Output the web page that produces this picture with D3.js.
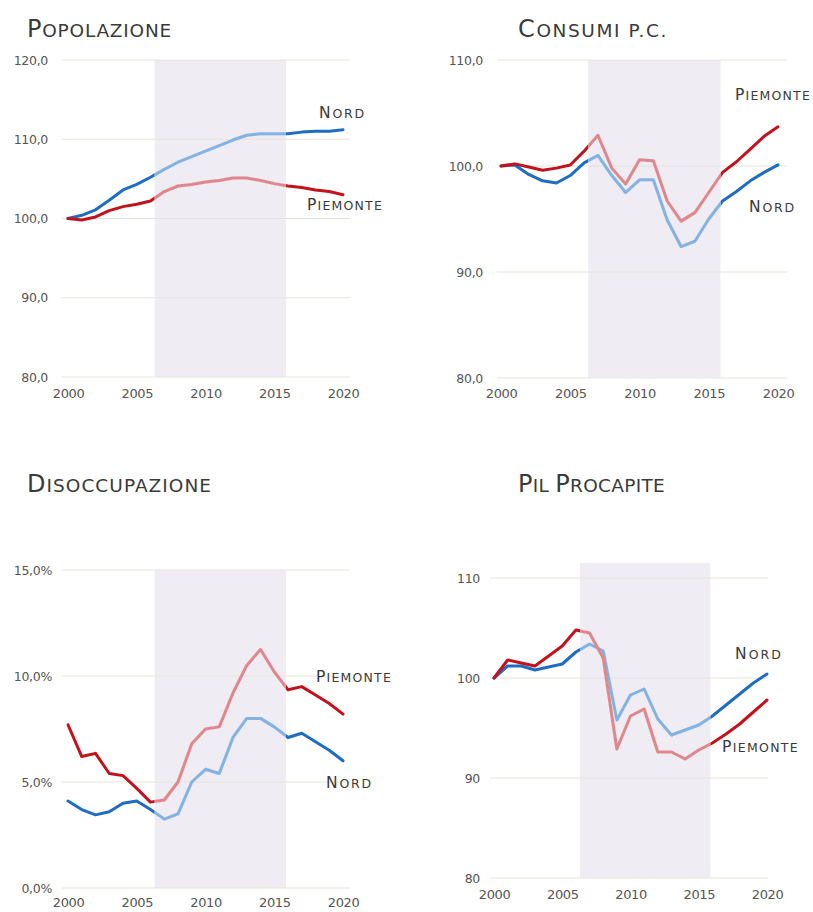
<!DOCTYPE html>
<html><head><meta charset="utf-8">
<script src="https://cdn.jsdelivr.net/npm/d3@7"></script>
<style>
html,body{margin:0;padding:0;background:#fff;}
svg{display:block;}
</style></head>
<body>
<svg id="chart" width="813" height="912"></svg>
<script>
// ---- data ----
const years = d3.range(2000, 2021);

const popNord     = [100,100.4,101.1,102.3,103.6,104.3,105.2,106.2,107.1,107.8,108.5,109.2,109.9,110.5,110.7,110.7,110.7,110.9,111.0,111.0,111.2];
const popPiemonte = [100,99.8,100.2,101.0,101.5,101.8,102.2,103.4,104.1,104.3,104.6,104.8,105.1,105.1,104.8,104.4,104.1,103.9,103.6,103.4,103.0];

const consNord     = [100,100.1,99.2,98.6,98.4,99.1,100.3,101.0,99.1,97.5,98.7,98.7,94.9,92.4,92.9,95.0,96.7,97.6,98.6,99.4,100.1];
const consPiemonte = [100,100.2,99.9,99.6,99.8,100.1,101.4,102.9,99.8,98.3,100.6,100.5,96.7,94.8,95.6,97.5,99.4,100.4,101.6,102.8,103.7];

const disNord     = [4.1,3.7,3.45,3.6,4.0,4.1,3.7,3.25,3.5,5.0,5.6,5.4,7.1,8.0,8.0,7.6,7.1,7.3,6.9,6.5,6.0];
const disPiemonte = [7.7,6.2,6.35,5.4,5.3,4.7,4.05,4.15,5.0,6.8,7.5,7.6,9.2,10.5,11.25,10.2,9.35,9.5,9.1,8.7,8.2];

const pilNord     = [100,101.2,101.2,100.8,101.1,101.4,102.6,103.4,102.7,95.8,98.3,98.9,95.9,94.3,94.8,95.3,96.2,97.3,98.4,99.5,100.4];
const pilPiemonte = [100,101.8,101.5,101.2,102.2,103.2,104.8,104.5,102.0,92.9,96.2,96.9,92.6,92.6,91.9,92.8,93.5,94.4,95.4,96.6,97.8];

const xTicks = [2000, 2005, 2010, 2015, 2020];
const popTicks  = [80, 90, 100, 110, 120];
const consTicks = [80, 90, 100, 110];
const disTicks  = [0, 5, 10, 15];
const pilTicks  = [80, 90, 100, 110];

const band = [2006.3, 2015.85];
const titles = ["Popolazione", "Consumi p.c.", "Disoccupazione", "Pil Procapite"];
const seriesNames = ["Nord", "Piemonte"];

// ---- styles ----
const C = {
  nordDark:"#1f6dc0", nordLight:"#84b3e2",
  piemDark:"#c2121c", piemLight:"#e0878d",
  band:"#efedf3", grid:"#e6e4da", text:"#3a3a3a", tick:"#555"
};
const FONT = "'DejaVu Sans', sans-serif";

const fmtComma = d => d3.format(".1f")(d).replace(".", ",");
const fmtPct = d => d3.format(".1f")(d).replace(".", ",") + "%";

const panels = [
  {title:titles[0], tx:27, ty:37, tw:145, x0:68, x1:343, gx0:62, gx1:350, yDom:[80,120], yR:[377,60], bandTop:60,
   ticks:popTicks, fmt:fmtComma, labX:48, xLabY:401, nord:popNord, piem:popPiemonte,
   labels:{nord:[319,118,47], piem:[307,210,76]}},
  {title:titles[1], tx:518, ty:37, tw:150, x0:501, x1:778, gx0:497, gx1:787, yDom:[80,110], yR:[378,60], bandTop:60,
   ticks:consTicks, fmt:fmtComma, labX:483, xLabY:401, nord:consNord, piem:consPiemonte,
   labels:{nord:[749,212,47], piem:[735,100,76]}},
  {title:titles[2], tx:27, ty:492, tw:185, x0:68, x1:343, gx0:62, gx1:350, yDom:[0,15], yR:[888,570], bandTop:570,
   ticks:disTicks, fmt:fmtPct, labX:52, xLabY:910, nord:disNord, piem:disPiemonte,
   labels:{nord:[326,788,47], piem:[316,682,76]}},
  {title:titles[3], tx:518, ty:492, tw:147, x0:494, x1:767, gx0:490, gx1:768, yDom:[80,110], yR:[878,578], bandTop:563,
   ticks:pilTicks, fmt:d3.format("d"), labX:480, xLabY:902, nord:pilNord, piem:pilPiemonte,
   labels:{nord:[735,659,48], piem:[722,752,77]}}
];

const svg = d3.select("#chart");
const defs = svg.append("defs");

// small caps text: capitals at big size, lower-case letters uppercased at small size
function smallCaps(g, str, x, yb, big, small, targetW) {
  const t = g.append("text").attr("x", x).attr("y", yb)
    .attr("font-family", FONT).attr("fill", C.text);
  const parts = str.match(/([A-Z]+|[^A-Z]+)/g);
  parts.forEach(pt => {
    const isCap = /^[A-Z]+$/.test(pt);
    t.append("tspan").attr("font-size", isCap ? big : small).text(pt.toUpperCase());
  });
  const w = t.node().getComputedTextLength();
  const n = str.length;
  if (targetW && n > 1) t.attr("letter-spacing", (targetW - w) / n);
  return t;
}

panels.forEach((p, i) => {
  const g = svg.append("g");
  const x = d3.scaleLinear().domain([2000, 2020]).range([p.x0, p.x1]);
  const y = d3.scaleLinear().domain(p.yDom).range(p.yR);
  const bottom = p.yR[0];

  // title
  smallCaps(g, p.title, p.tx, p.ty, 24, 18.5, p.tw);

  // band
  g.append("rect").attr("x", x(band[0])).attr("y", p.bandTop)
    .attr("width", x(band[1]) - x(band[0])).attr("height", bottom - p.bandTop)
    .attr("fill", C.band);

  // gridlines
  g.selectAll(".grid").data(p.ticks).join("line")
    .attr("x1", p.gx0).attr("x2", p.gx1)
    .attr("y1", d => y(d)).attr("y2", d => y(d))
    .attr("stroke", C.grid).attr("stroke-width", 1);

  // y axis labels
  const yAxis = d3.axisLeft(y).tickValues(p.ticks).tickFormat(p.fmt).tickSize(0).tickPadding(0);
  const ya = g.append("g").attr("transform", `translate(${p.labX},0)`).call(yAxis);
  ya.select(".domain").remove();
  ya.selectAll("text").attr("font-size", 12.5).attr("fill", C.tick).attr("font-family", FONT).attr("letter-spacing", -0.3);

  // x axis labels
  const xAxis = d3.axisBottom(x).tickValues(xTicks).tickFormat(d3.format("d")).tickSize(0).tickPadding(0);
  const xa = g.append("g").attr("transform", `translate(0,${p.xLabY - 12})`).call(xAxis);
  xa.select(".domain").remove();
  xa.selectAll("text").attr("font-size", 13).attr("fill", C.tick).attr("font-family", FONT).attr("letter-spacing", -0.4);

  // clip for band
  const cid = "band" + i;
  defs.append("clipPath").attr("id", cid).append("rect")
    .attr("x", x(band[0])).attr("y", 0).attr("width", x(band[1]) - x(band[0])).attr("height", 912);

  const line = d3.line().x((d, k) => x(years[k])).y(d => y(d)).curve(d3.curveLinear);

  const series = [
    {vals:p.nord, dark:C.nordDark, light:C.nordLight},
    {vals:p.piem, dark:C.piemDark, light:C.piemLight}
  ];
  series.forEach(s => {
    g.append("path").attr("d", line(s.vals)).attr("fill", "none")
      .attr("stroke", s.dark).attr("stroke-width", 3).attr("stroke-linejoin", "round").attr("stroke-linecap", "round");
  });
  series.forEach(s => {
    g.append("path").attr("d", line(s.vals)).attr("fill", "none")
      .attr("clip-path", `url(#${cid})`)
      .attr("stroke", C.band).attr("stroke-width", 4);
  });
  series.forEach(s => {
    g.append("path").attr("d", line(s.vals)).attr("fill", "none")
      .attr("clip-path", `url(#${cid})`)
      .attr("stroke", s.light).attr("stroke-width", 3).attr("stroke-linejoin", "round");
  });

  // series labels
  [["nord", seriesNames[0]], ["piem", seriesNames[1]]].forEach(([k, name]) => {
    smallCaps(g, name, p.labels[k][0], p.labels[k][1], 15.5, 12.5, p.labels[k][2]);
  });
});
</script>
</body></html>
